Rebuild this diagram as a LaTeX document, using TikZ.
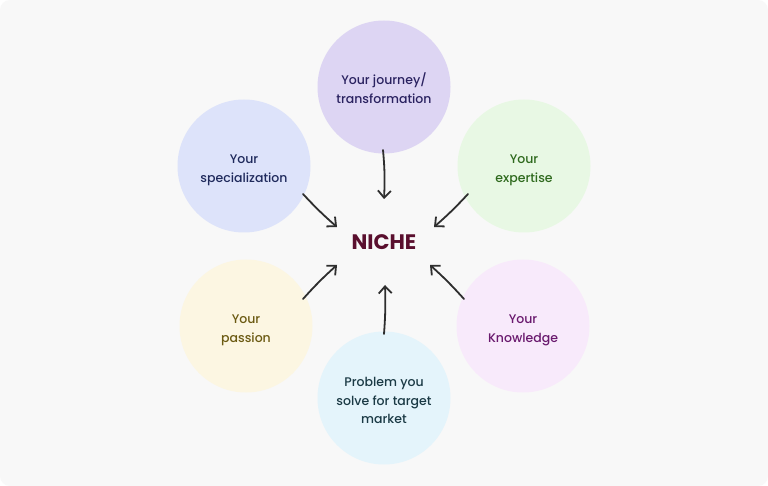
\documentclass[tikz,border=0pt]{standalone}
\usepackage{fontspec}
\setmainfont{Poppins}
\IfFontExistsTF{Poppins Medium}{\newfontfamily\bubfont{Poppins Medium}}{\newfontfamily\bubfont{Poppins}}
\newfontfamily\nichefont{Poppins}[UprightFont=*-Bold]
\usetikzlibrary{arrows.meta}
\newcommand\btxt[1]{\raisebox{-3.5pt}[\height][\depth]{\begin{tabular}{@{}c@{}}#1\end{tabular}}}
\definecolor{bgc}{HTML}{F8F8F8}
\definecolor{arr}{HTML}{2E2E2E}
\definecolor{fJ}{HTML}{DDD5F3}\definecolor{tJ}{HTML}{2A2260}
\definecolor{fS}{HTML}{DDE3FA}\definecolor{tS}{HTML}{1F2A5C}
\definecolor{fE}{HTML}{E8F8E4}\definecolor{tE}{HTML}{2F6A1E}
\definecolor{fK}{HTML}{F8EAFB}\definecolor{tK}{HTML}{6A1A6E}
\definecolor{fP}{HTML}{FCF6E2}\definecolor{tP}{HTML}{6B5A12}
\definecolor{fM}{HTML}{E4F4FB}\definecolor{tM}{HTML}{1B3A45}
\definecolor{niche}{HTML}{5A0F2E}
\tikzset{
  bubble/.style={circle, minimum size=133pt, inner sep=0pt, align=center,
    font=\bubfont\fontsize{12.5}{18.5}\selectfont},
  link/.style={draw=arr, line width=1.8pt, line cap=round,
    -{Straight Barb[length=7pt,width=13pt,line width=1.8pt]}}
}
\begin{document}
\begin{tikzpicture}[x=1pt,y=-1pt]
\fill[white] (0,0) rectangle (768,486);
\fill[bgc, rounded corners=10pt] (0,0) rectangle (768,486);
\useasboundingbox (0,0) rectangle (768,486);

\node[bubble, fill=fJ, text=tJ] (journey) at (384,87) {\btxt{Your journey/\\transformation}};
\node[bubble, fill=fS, text=tS] (spec) at (244,166) {\btxt{Your\\specialization}};
\node[bubble, fill=fE, text=tE] (exp) at (524,166) {\btxt{Your\\expertise}};
\node[bubble, fill=fK, text=tK] (know) at (523,326) {\btxt{Your\\Knowledge}};
\node[bubble, fill=fP, text=tP] (pass) at (246,326) {\btxt{Your\\passion}};
\node[bubble, fill=fM, text=tM] (prob) at (384,398) {\btxt{Problem you\\solve for target\\market}};
\node[text=niche, font=\nichefont\fontsize{21}{24}\selectfont] (niche) at (384,242) {NICHE};

\coordinate (jS) at (383,150); \coordinate (jE) at (384,199);
\coordinate (sS) at (303,194); \coordinate (sE) at (337,227);
\coordinate (eS) at (468,194); \coordinate (eE) at (434,227);
\coordinate (kS) at (464,299); \coordinate (kE) at (430,265);
\coordinate (pS) at (303,299); \coordinate (pE) at (337,265);
\coordinate (mS) at (384,334); \coordinate (mE) at (385,285);

\draw[link] (jS) to[bend left=4] (jE);
\draw[link] (sS) to[bend right=3] (sE);
\draw[link] (eS) to[bend left=3] (eE);
\draw[link] (kS) to[bend right=3] (kE);
\draw[link] (pS) to[bend left=3] (pE);
\draw[link] (mS) to[bend right=3] (mE);
\end{tikzpicture}
\end{document}
